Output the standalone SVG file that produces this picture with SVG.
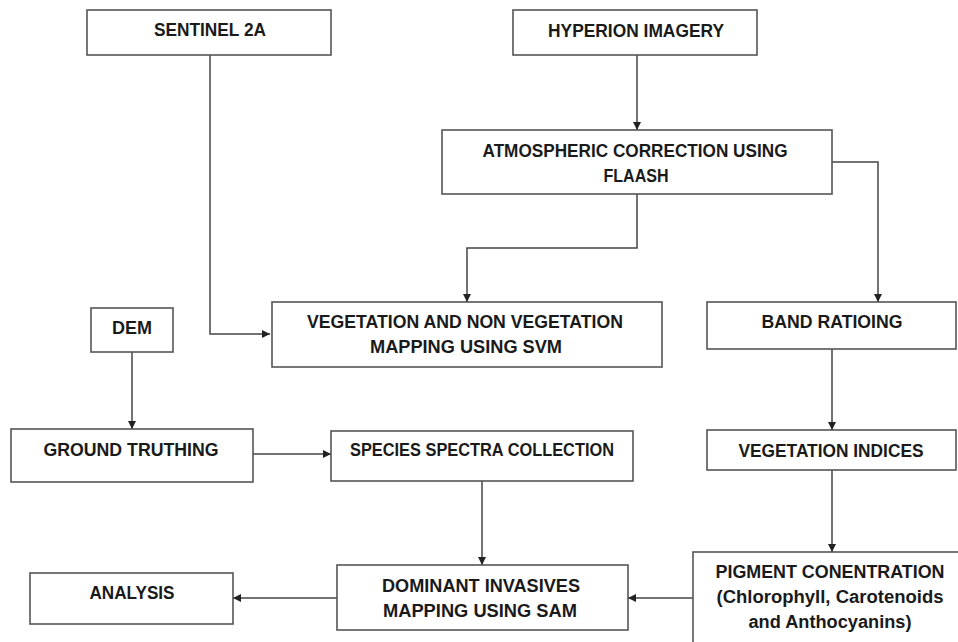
<svg xmlns="http://www.w3.org/2000/svg" width="958" height="642" viewBox="0 0 958 642">
<style>
.box{fill:#fff;stroke:#555;stroke-width:1.6}
.t{font-family:"Liberation Sans",Arial,sans-serif;font-weight:bold;font-size:18px;fill:#1a1a1a;text-anchor:middle}
.c{fill:none;stroke:#444;stroke-width:1.5}
</style>
<defs>
<marker id="ah" viewBox="0 0 10 10" refX="10" refY="5" markerWidth="8" markerHeight="8" markerUnits="userSpaceOnUse" orient="auto">
<path d="M0,0 L10,5 L0,10 z" fill="#222"/>
</marker>
</defs>
<rect width="958" height="642" fill="#fff"/>
<g id="connectors">
<path class="c" d="M210,55 V334 H270" marker-end="url(#ah)"/>
<path class="c" d="M637,55 V130" marker-end="url(#ah)"/>
<path class="c" d="M637,194 V248 H467 V302" marker-end="url(#ah)"/>
<path class="c" d="M832,162 H878 V302" marker-end="url(#ah)"/>
<path class="c" d="M132,352 V429" marker-end="url(#ah)"/>
<path class="c" d="M253,454 H331" marker-end="url(#ah)"/>
<path class="c" d="M832,349 V430" marker-end="url(#ah)"/>
<path class="c" d="M832,470 V552" marker-end="url(#ah)"/>
<path class="c" d="M482,481 V565" marker-end="url(#ah)"/>
<path class="c" d="M693,598 H628" marker-end="url(#ah)"/>
<path class="c" d="M337,598 H233" marker-end="url(#ah)"/>
</g>
<g id="sentinel">
<rect class="box" x="87" y="10" width="244" height="45"/>
<text class="t" x="210" y="36" textLength="112" lengthAdjust="spacingAndGlyphs">SENTINEL 2A</text>
</g>
<g id="hyperion">
<rect class="box" x="513" y="10" width="244" height="45"/>
<text class="t" x="636" y="37" textLength="176" lengthAdjust="spacingAndGlyphs">HYPERION IMAGERY</text>
</g>
<g id="atmospheric">
<rect class="box" x="442" y="130" width="390" height="64"/>
<text class="t" x="635" y="157" textLength="305" lengthAdjust="spacingAndGlyphs">ATMOSPHERIC CORRECTION USING</text>
<text class="t" x="636" y="182" textLength="65" lengthAdjust="spacingAndGlyphs">FLAASH</text>
</g>
<g id="vegmap">
<rect class="box" x="272" y="302" width="390" height="65"/>
<text class="t" x="465" y="328" textLength="316" lengthAdjust="spacingAndGlyphs">VEGETATION AND NON VEGETATION</text>
<text class="t" x="466" y="353" textLength="192" lengthAdjust="spacingAndGlyphs">MAPPING USING SVM</text>
</g>
<g id="band">
<rect class="box" x="707" y="302" width="249" height="47"/>
<text class="t" x="832" y="328" textLength="141" lengthAdjust="spacingAndGlyphs">BAND RATIOING</text>
</g>
<g id="dem">
<rect class="box" x="91" y="308" width="82" height="44"/>
<text class="t" x="132" y="334" textLength="40" lengthAdjust="spacingAndGlyphs">DEM</text>
</g>
<g id="ground">
<rect class="box" x="11" y="429" width="242" height="53"/>
<text class="t" x="131" y="456" textLength="175" lengthAdjust="spacingAndGlyphs">GROUND TRUTHING</text>
</g>
<g id="species">
<rect class="box" x="331" y="431" width="302" height="50"/>
<text class="t" x="482" y="456" textLength="264" lengthAdjust="spacingAndGlyphs">SPECIES SPECTRA COLLECTION</text>
</g>
<g id="indices">
<rect class="box" x="707" y="430" width="249" height="40"/>
<text class="t" x="831" y="457" textLength="185" lengthAdjust="spacingAndGlyphs">VEGETATION INDICES</text>
</g>
<g id="pigment">
<rect class="box" x="693" y="552" width="280" height="100"/>
<text class="t" x="830" y="578" textLength="229" lengthAdjust="spacingAndGlyphs">PIGMENT CONENTRATION</text>
<text class="t" x="830" y="603" textLength="227" lengthAdjust="spacingAndGlyphs">(Chlorophyll, Carotenoids</text>
<text class="t" x="830" y="628" textLength="163" lengthAdjust="spacingAndGlyphs">and Anthocyanins)</text>
</g>
<g id="dominant">
<rect class="box" x="337" y="565" width="291" height="65"/>
<text class="t" x="481" y="592" textLength="198" lengthAdjust="spacingAndGlyphs">DOMINANT INVASIVES</text>
<text class="t" x="480" y="617" textLength="194" lengthAdjust="spacingAndGlyphs">MAPPING USING SAM</text>
</g>
<g id="analysis">
<rect class="box" x="30" y="573" width="203" height="51"/>
<text class="t" x="132" y="599" textLength="85" lengthAdjust="spacingAndGlyphs">ANALYSIS</text>
</g>
</svg>
